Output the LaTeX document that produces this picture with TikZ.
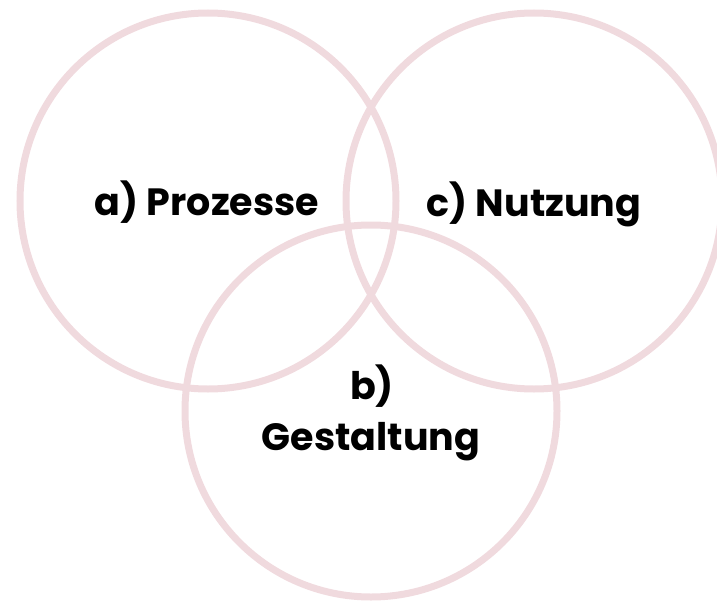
\documentclass[tikz,border=0pt]{standalone}
\usepackage{fontspec}
\setmainfont{Poppins}[BoldFont={Poppins Bold}]
\definecolor{ringpink}{RGB}{240,218,222}
\begin{document}
\begin{tikzpicture}[x=1pt,y=-1pt,
  ring/.style={draw=ringpink,line width=7pt},
  lbl/.style={font=\fontsize{38}{46}\selectfont\bfseries,text=black,anchor=base,inner sep=0pt}]
\useasboundingbox (0,0) rectangle (717,602);
\draw[ring] (208,201) circle (188);
\draw[ring] (534,201) circle (188);
\draw[ring] (371,411) circle (186);
\node[lbl] (a) at (207,215) {a) Prozesse};
\node[lbl] (c) at (534,216) {c) Nutzung};
\node[lbl] (b1) at (372,399) {b)};
\node[lbl] (b2) at (371,450) {Gestaltung};
\end{tikzpicture}
\end{document}
